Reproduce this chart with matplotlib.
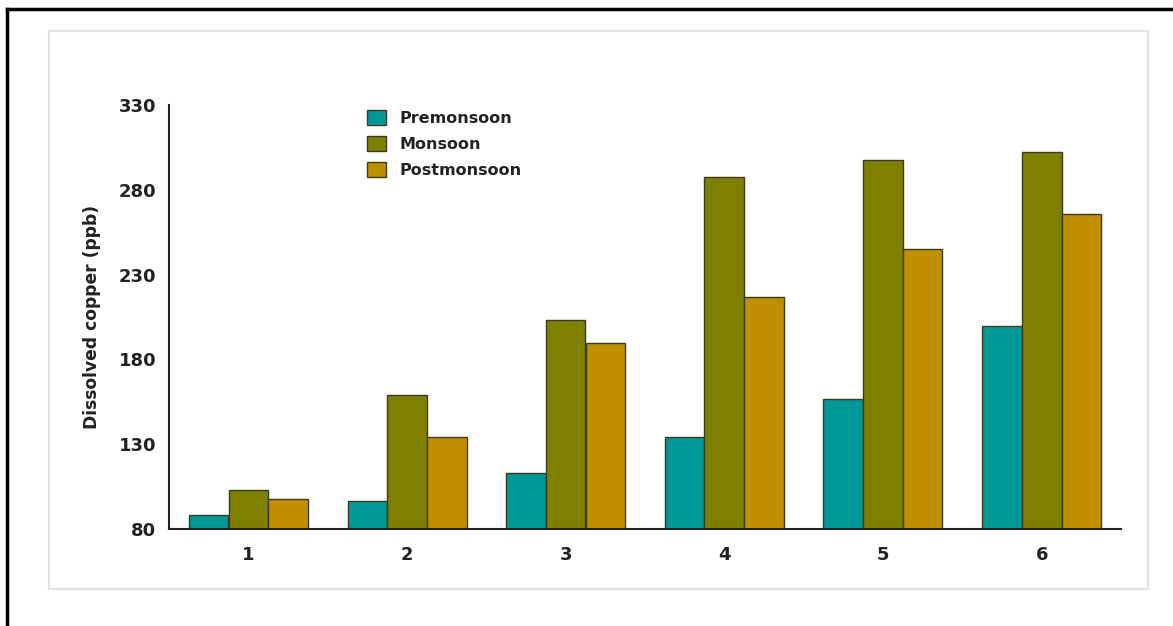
import matplotlib
matplotlib.use("Agg")
import matplotlib.pyplot as plt
from matplotlib.patches import Rectangle, Patch
from matplotlib.lines import Line2D
import numpy as np

stations = ["1", "2", "3", "4", "5", "6"]
premonsoon = [88, 96.5, 113, 134, 156.5, 199.5]
monsoon = [103, 159, 203.5, 287.5, 297.5, 302]
postmonsoon = [97.5, 134, 189.5, 217, 245, 266]
series_names = ["Premonsoon", "Monsoon", "Postmonsoon"]
yticks = [80, 130, 180, 230, 280, 330]

colors = ["#009797", "#808000", "#C08F00"]
edge = "#3b3b20"

fig = plt.figure(figsize=(11.73, 6.26), dpi=100)
fig.patch.set_facecolor("white")

# outer frame lines (top and left)
fig.add_artist(Line2D([7/1173, 1.0], [1-9/626, 1-9/626], color="black", lw=2.5, transform=fig.transFigure))
fig.add_artist(Line2D([7/1173, 7/1173], [0, 1-9/626], color="black", lw=2.5, transform=fig.transFigure))
# inner light gray box
fig.add_artist(Rectangle((49/1173, 1-589/626), (1148-49)/1173, (589-31)/626,
                         fill=False, edgecolor="#e2e2e2", lw=1.5, transform=fig.transFigure))

ax = fig.add_axes([169/1173, 1-529/626, (1121-169)/1173, (529-105)/626])
x = np.arange(1, len(stations) + 1)
w = 0.25
for i, (vals, c) in enumerate(zip([premonsoon, monsoon, postmonsoon], colors)):
    ax.bar(x + (i - 1) * w, np.array(vals) - 80, bottom=80, width=w, color=c,
           edgecolor=edge, linewidth=1.0, zorder=2)

ax.set_xlim(0.5, 6.5)
ax.set_ylim(80, 330)
ax.set_yticks(yticks)
ax.set_yticklabels([str(t) for t in yticks], fontsize=13, fontweight="bold", color="#222222")
ax.set_xticks(x)
ax.set_xticklabels(stations, fontsize=13, fontweight="bold", color="#222222")
ax.tick_params(axis="both", length=0)
ax.tick_params(axis="y", pad=9)
ax.tick_params(axis="x", pad=12)
for s in ["top", "right"]:
    ax.spines[s].set_visible(False)
for s in ["left", "bottom"]:
    ax.spines[s].set_linewidth(1.5)
    ax.spines[s].set_color("#222222")
ax.set_ylabel("Dissolved copper (ppb)", fontsize=12.3, fontweight="bold", color="#222222", labelpad=13)

handles = [Patch(facecolor=c, edgecolor=edge, linewidth=1.0) for c in colors]
leg = ax.legend(handles, series_names, loc="upper left",
                bbox_to_anchor=((353 - 169) / (1121 - 169), (529 - 96) / (529 - 105)),
                frameon=False, prop={"weight": "bold", "size": 11.5},
                handlelength=1.15, handleheight=1.05, handletextpad=0.85, labelspacing=0.62)
for t in leg.get_texts():
    t.set_color("#222222")

fig.savefig("out.png", dpi=100, facecolor="white")
